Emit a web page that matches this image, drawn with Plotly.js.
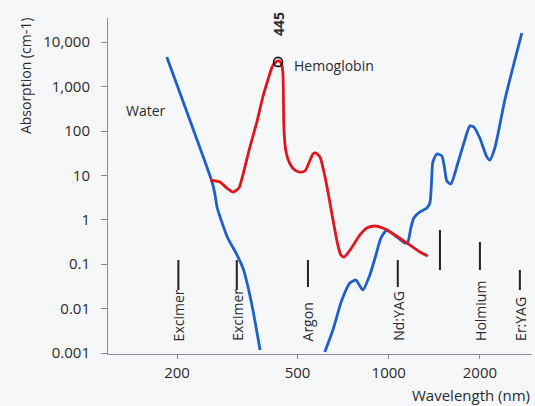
<!DOCTYPE html>
<html><head><meta charset="utf-8">
<script src="https://cdn.plot.ly/plotly-3.0.1.min.js"></script>
<style>html,body{margin:0;padding:0;background:#f6f7f9;}#chart{width:535px;height:406px;}</style>
</head><body><div id="chart"></div>
<script>
// Water absorption, UV branch (nm, cm-1)
const waterUvNm  = [185, 221, 261, 267, 271, 281, 294, 313, 330, 340, 356, 376];
const waterUvAbs = [4645, 168, 7.1, 3.62, 1.94, 0.89, 0.389, 0.179, 0.082, 0.0397, 0.0093, 0.00117];
// Water absorption, visible / IR branch
const waterIrNm  = [615, 654, 700, 744, 779, 821, 866, 907, 942, 986, 1064, 1130, 1156, 1183, 1210, 1267, 1336, 1367, 1388, 1398, 1441, 1497, 1532, 1555, 1603, 1691, 1783, 1852, 1909, 1998, 2108, 2157, 2240, 2417, 2608, 2750];
const waterIrAbs = [0.00105, 0.0033, 0.0156, 0.0378, 0.044, 0.0262, 0.0571, 0.161, 0.389, 0.589, 0.41, 0.3, 0.316, 0.653, 1.10, 1.50, 1.85, 2.39, 10.2, 20.0, 30.3, 27.4, 13.2, 7.48, 6.4, 19.0, 62.7, 130, 123, 69.5, 25.9, 22.2, 41.4, 499, 3972, 16110];
// Hemoglobin absorption
const hbNm  = [257, 277, 292, 306, 320, 333, 348, 367, 384, 399, 412, 424, 434, 441, 447, 449, 451, 458, 472, 490, 509, 529, 545, 562, 575, 593, 611, 630, 659, 679, 695, 711, 733, 761, 803, 847, 900, 956, 1048, 1174, 1267, 1346];
const hbAbs = [7.87, 7.1, 5.2, 4.23, 5.2, 13.2, 43.6, 160, 583, 1409, 2763, 3581, 3776, 3401, 2133, 499, 105, 33.6, 18.1, 13.2, 11.9, 12.6, 19.0, 30.3, 31.9, 25.9, 11.9, 4.23, 0.764, 0.27, 0.161, 0.145, 0.179, 0.257, 0.455, 0.653, 0.725, 0.653, 0.455, 0.27, 0.188, 0.153];
// Hemoglobin peak marker
const hbPeakNm = [431];
const hbPeakAbs = [3600];
const hbPeakLabel = '445';
// Lasers
const laserNames = ['Excimer', 'Excimer', 'Argon', 'Nd:YAG', '', 'Holmium', 'Er:YAG'];
const laserNm = [202, 315, 541, 1071, 1476, 2000, 2710];
const laserLineTop = [0.124, 0.124, 0.124, 0.124, 0.589, 0.316, 0.074];
const laserLineBottom = [0.0262, 0.0262, 0.0306, 0.0306, 0.074, 0.074, 0.0262];
// Ticks
const xTickVals = [200, 500, 1000, 2000];
const xTickText = ['200', '500', '1000', '2000'];
const yTickVals = [10000, 1000, 100, 10, 1, 0.1, 0.01, 0.001];
const yTickText = ['10,000', '1,000', '100', '10', '1', '0.1', '0.01', '0.001'];

const FONT = 'Open Sans, Noto Sans, sans-serif';
const TXT = '#2b2b2b';
const BLUE = '#1f60c8';
const RED = '#e0161e';

const lx = [], ly = [];
laserNm.forEach((nm, i) => { lx.push(nm, nm, null); ly.push(laserLineTop[i], laserLineBottom[i], null); });

const traces = [
  {x: waterUvNm, y: waterUvAbs, mode: 'lines', line: {color: BLUE, width: 2.8, shape: 'spline', smoothing: 0.6}, hoverinfo: 'skip'},
  {x: waterIrNm, y: waterIrAbs, mode: 'lines', line: {color: BLUE, width: 2.8, shape: 'spline', smoothing: 0.6}, hoverinfo: 'skip'},
  {x: hbNm, y: hbAbs, mode: 'lines', line: {color: RED, width: 2.8, shape: 'spline', smoothing: 0.6}, hoverinfo: 'skip'},
  {x: hbPeakNm, y: hbPeakAbs, mode: 'markers', marker: {symbol: 'circle', size: 9, color: 'rgba(0,0,0,0)', line: {color: '#111', width: 1.6}}, hoverinfo: 'skip'},
  {x: lx, y: ly, mode: 'lines', line: {color: '#222', width: 2}, connectgaps: false, hoverinfo: 'skip'}
];

const annotations = [
  {text: 'Water', xref: 'paper', yref: 'paper', x: 0.0896, y: 0.726, xanchor: 'center', yanchor: 'middle', showarrow: false, font: {family: FONT, size: 14, color: TXT}},
  {text: 'Hemoglobin', xref: 'paper', yref: 'paper', x: 0.434, y: 0.860, xanchor: 'left', yanchor: 'middle', showarrow: false, font: {family: FONT, size: 14, color: TXT}},
  {text: '<b>' + hbPeakLabel + '</b>', xref: 'x', yref: 'paper', x: Math.log10(hbPeakNm[0]), y: 0.982, xanchor: 'center', yanchor: 'middle', textangle: -90, showarrow: false, font: {family: FONT, size: 14, color: TXT}},
  {text: 'Absorption (cm-1)', xref: 'paper', yref: 'paper', x: -0.1958, y: 0.827, xanchor: 'center', yanchor: 'middle', textangle: -90, showarrow: false, font: {family: FONT, size: 14, color: TXT}},
  {text: 'Wavelength (nm)', xref: 'paper', yref: 'paper', x: 1, y: -0.122, xanchor: 'right', yanchor: 'middle', showarrow: false, font: {family: FONT, size: 15, color: TXT}}
];
laserNames.forEach((name, i) => {
  if (!name) return;
  annotations.push({text: name, xref: 'x', yref: 'paper', x: Math.log10(laserNm[i]), y: 0.0327, xanchor: 'center', yanchor: 'bottom', textangle: -90, showarrow: false, font: {family: FONT, size: 14, color: TXT}});
});

const layout = {
  width: 535, height: 406,
  margin: {l: 108, r: 3, t: 18, b: 52},
  paper_bgcolor: '#f6f7f9', plot_bgcolor: '#f6f7f9',
  showlegend: false,
  font: {family: FONT, color: TXT},
  xaxis: {type: 'log', range: [2.073, 3.473], tickvals: xTickVals, ticktext: xTickText,
    showgrid: false, zeroline: false, showline: true, linecolor: '#8c8c96', linewidth: 1,
    ticks: 'outside', ticklen: 4, tickcolor: '#8c8c96', ticklabelstandoff: 1,
    tickfont: {family: FONT, size: 15, color: TXT}},
  yaxis: {type: 'log', range: [-3.0225, 4.545], tickvals: yTickVals, ticktext: yTickText,
    showgrid: false, zeroline: false, showline: true, linecolor: '#8c8c96', linewidth: 1,
    ticks: 'outside', ticklen: 6, tickcolor: '#8c8c96', ticklabelstandoff: 8,
    tickfont: {family: FONT, size: 15, color: TXT}},
  annotations: annotations
};

Plotly.newPlot('chart', traces, layout, {displayModeBar: false, staticPlot: true});
</script>
</body></html>
